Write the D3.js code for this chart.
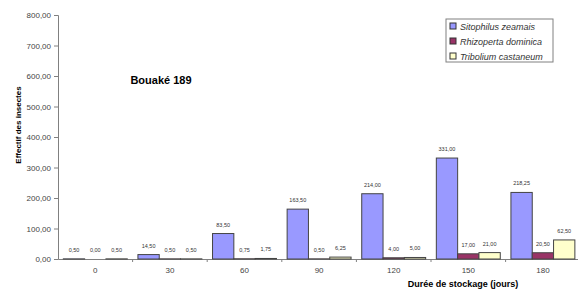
<!DOCTYPE html>
<html>
<head>
<meta charset="utf-8">
<script src="https://cdn.jsdelivr.net/npm/d3@7"></script>
<style>
  body { margin: 0; background: #fff; }
  svg { display: block; font-family: Arial, "Liberation Sans", sans-serif; }
</style>
</head>
<body>
<div class="chart"></div>
<script>
const days = ['0', '30', '60', '90', '120', '150', '180'];
const seriesNames = ['Sitophilus zeamais', 'Rhizoperta dominica', 'Tribolium castaneum'];
const sitophilus = [0.5, 14.5, 83.5, 163.5, 214.0, 331.0, 218.25];
const rhizoperta = [0.0, 0.5, 0.75, 0.5, 4.0, 17.0, 20.5];
const tribolium = [0.5, 0.5, 1.75, 6.25, 5.0, 21.0, 62.5];
const yTicks = [0, 100, 200, 300, 400, 500, 600, 700, 800];
const colors = ['#9999ff', '#993366', '#ffffcc'];

const width = 578, height = 291;
const margin = { left: 58, right: 0, top: 15, bottom: 32 };
const fmt = v => d3.format('.2f')(v).replace('.', ',');

const svg = d3.select('.chart').append('svg')
  .attr('width', width)
  .attr('height', height);

const x = d3.scaleBand()
  .domain(days)
  .range([margin.left, margin.left + 7 * 74.6]);
const xs = d3.scaleBand()
  .domain(seriesNames)
  .range([0, x.bandwidth()])
  .paddingOuter(0.25)
  .paddingInner(0);
const y = d3.scaleLinear().domain([0, 800]).range([259, 15]);

// y axis
const yAxis = svg.append('g')
  .attr('transform', `translate(${margin.left},0)`)
  .call(d3.axisLeft(y).tickValues(yTicks).tickSize(4).tickFormat(fmt));
yAxis.select('.domain').attr('stroke', '#808080');
yAxis.selectAll('.tick line').attr('stroke', '#808080');
yAxis.selectAll('text').attr('font-size', 8).attr('fill', '#444');

// x axis
const xAxis = svg.append('g')
  .attr('transform', `translate(0,${y(0)})`)
  .call(d3.axisBottom(x).tickSize(0).tickPadding(8));
xAxis.select('.domain').attr('stroke', '#808080');
xAxis.selectAll('text').attr('font-size', 8).attr('fill', '#444');
svg.append('g')
  .selectAll('line')
  .data(days.slice(1))
  .enter()
  .append('line')
  .attr('x1', d => x(d))
  .attr('x2', d => x(d))
  .attr('y1', y(0))
  .attr('y2', y(0) + 3)
  .attr('stroke', '#808080');

// bars
const rows = days.map((d, i) => ({
  day: d,
  values: [sitophilus[i], rhizoperta[i], tribolium[i]]
}));
const groups = svg.append('g')
  .selectAll('g')
  .data(rows)
  .enter()
  .append('g')
  .attr('transform', d => `translate(${x(d.day)},0)`);

groups.selectAll('rect')
  .data(d => d.values.map((v, k) => ({ v, k })))
  .enter()
  .append('rect')
  .attr('x', d => xs(seriesNames[d.k]))
  .attr('y', d => y(d.v))
  .attr('width', xs.bandwidth())
  .attr('height', d => y(0) - y(d.v))
  .attr('fill', d => colors[d.k])
  .attr('stroke', '#444')
  .attr('stroke-width', 1);

groups.selectAll('text')
  .data(d => d.values.map((v, k) => ({ v, k })))
  .enter()
  .append('text')
  .attr('x', d => xs(seriesNames[d.k]) + xs.bandwidth() / 2)
  .attr('y', d => y(d.v) - 7)
  .attr('text-anchor', 'middle')
  .attr('font-size', 5.5)
  .attr('fill', '#333')
  .text(d => fmt(d.v));

// title
svg.append('text')
  .attr('x', 161)
  .attr('y', 84)
  .attr('text-anchor', 'middle')
  .attr('font-size', 11)
  .attr('font-weight', 'bold')
  .text('Bouaké 189');

// axis titles
svg.append('text')
  .attr('transform', 'translate(21,125) rotate(-90)')
  .attr('text-anchor', 'middle')
  .attr('font-size', 8)
  .attr('font-weight', 'bold')
  .text('Effectif des insectes');

svg.append('text')
  .attr('x', 463)
  .attr('y', 287)
  .attr('text-anchor', 'middle')
  .attr('font-size', 9)
  .attr('font-weight', 'bold')
  .text('Durée de stockage (jours)');

// legend
const legend = svg.append('g').attr('transform', 'translate(446,19)');
legend.append('rect')
  .attr('width', 107)
  .attr('height', 43)
  .attr('fill', '#fff')
  .attr('stroke', '#808080');
const li = legend.selectAll('g.item')
  .data(seriesNames)
  .enter()
  .append('g')
  .attr('class', 'item')
  .attr('transform', (d, i) => `translate(4,${7 + i * 15})`);
li.append('rect')
  .attr('y', -3)
  .attr('width', 6)
  .attr('height', 6)
  .attr('fill', (d, i) => colors[i])
  .attr('stroke', '#333');
li.append('text')
  .attr('x', 10)
  .attr('y', 3.5)
  .attr('font-size', 9)
  .attr('font-style', 'italic')
  .attr('fill', '#333')
  .text(d => d);
</script>
</body>
</html>
